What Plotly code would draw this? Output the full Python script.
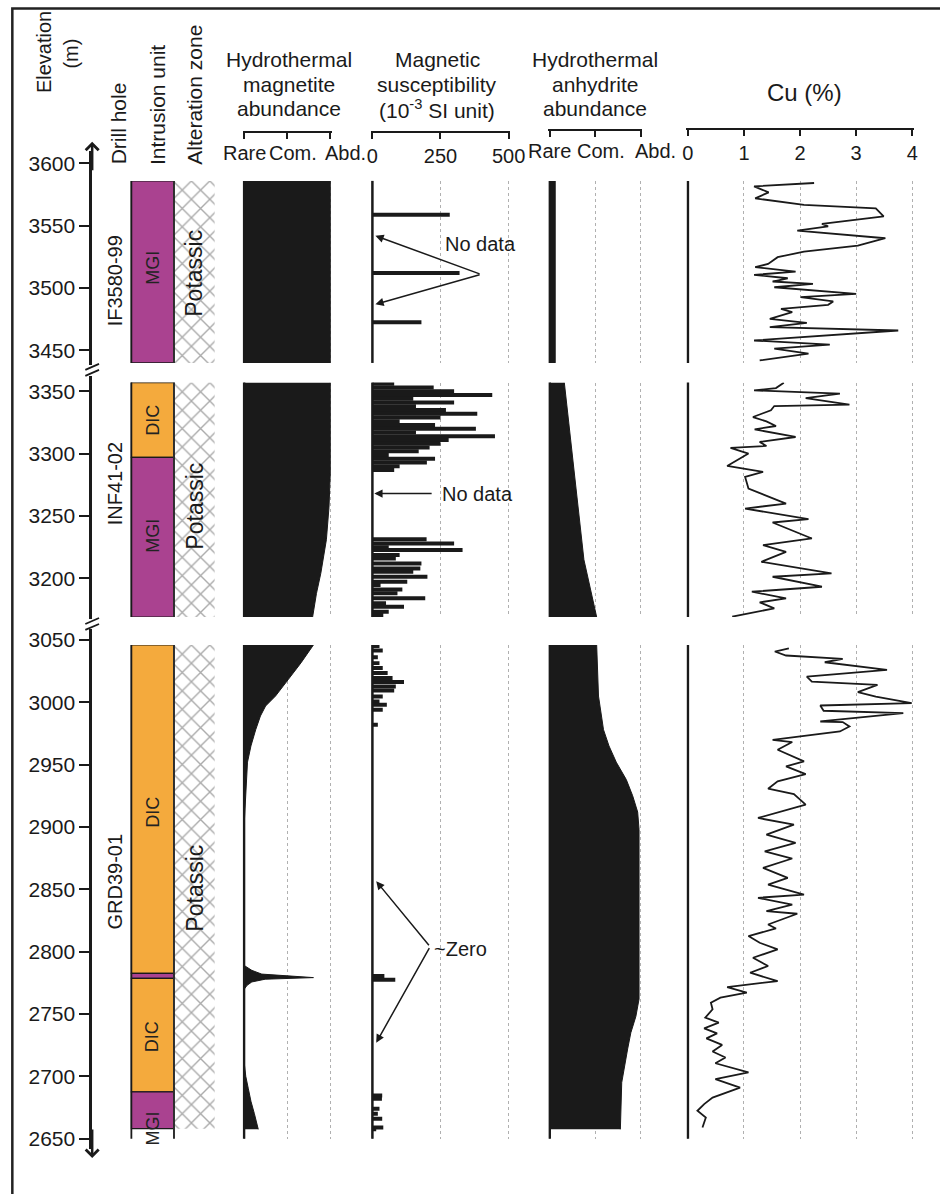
import plotly.graph_objects as go

W, H = 940, 1194
FONT = "Liberation Sans, Arial, sans-serif"
INK = "#1a1a1a"
GRID = "#b0b0b0"
MGI_COLOR = "#aa4290"
DIC_COLOR = "#f4aa3d"

# ---------------------------------------------------------------- data
drill_holes = ["IF3580-99", "INF41-02", "GRD39-01"]
drill_label_elev = [3506, 3276, 2856]
section_top = [3586, 3357, 3046]
section_bottom = [3440, 3169, 2650]
elevation_ticks = [
    [3450, 3500, 3550, 3600],
    [3200, 3250, 3300, 3350],
    [2650, 2700, 2750, 2800, 2850, 2900, 2950, 3000, 3050],
]
abundance_classes = ["Rare", "Com.", "Abd."]

# intrusion units
unit_section = [0, 1, 1, 2, 2, 2, 2]
unit_name = ["MGI", "DIC", "MGI", "DIC", "MGI", "DIC", "MGI"]
unit_top = [3586, 3357, 3297, 3046, 2782.6, 2778.6, 2687.6]
unit_bottom = [3440, 3297, 3169, 2782.6, 2778.6, 2687.6, 2658]
unit_label_elev = [3516, 3327, 3234, 2912, None, 2732, 2658]

# alteration zone
alteration_name = ["Potassic", "Potassic", "Potassic"]
alteration_top = [3586, 3357, 3046]
alteration_bottom = [3440, 3169, 2658]
alteration_label_elev = [3512, 3258, 2851]

# hydrothermal magnetite abundance (0 = rare, 1 = common, 2 = abundant)
mag_elev = [
    [3586, 3440],
    [3357, 3284, 3257, 3231, 3204, 3188, 3169],
    [3046, 3031.6, 3018, 3005, 2997, 2989, 2978, 2965, 2952, 2925, 2912, 2900,
     2789, 2785, 2782, 2780.5, 2779.2, 2777.9, 2775.7, 2773, 2769.7,
     2712, 2700, 2690, 2680, 2670, 2660, 2657.5],
]
mag_value = [
    [2.0, 2.0],
    [2.0, 2.0, 1.97, 1.91, 1.78, 1.68, 1.59],
    [1.61, 1.32, 1.02, 0.73, 0.50, 0.38, 0.27, 0.16, 0.08, 0.04, 0.02, 0.0,
     0.0, 0.18, 0.41, 1.02, 1.61, 0.49, 0.18, 0.07, 0.0,
     0.0, 0.04, 0.10, 0.16, 0.24, 0.31, 0.33],
]

# magnetic susceptibility (10^-3 SI)
sus_elev = [
    [3558.9, 3512.2, 3472.7],
    [3356, 3353, 3350, 3347, 3344, 3341, 3338, 3335, 3332, 3329, 3326, 3323,
     3320, 3317, 3314, 3311, 3308, 3305, 3302, 3299, 3296, 3293, 3290, 3287,
     3231.3, 3228, 3225, 3222.7, 3218.7, 3216, 3212, 3208, 3205.3, 3201.3,
     3197.3, 3194.7, 3191, 3188, 3184, 3180, 3177.3, 3173.3, 3170.7],
    [3045.2, 3041.5, 3036.2, 3031.4, 3027.4, 3023.4, 3019.4, 3016.2, 3012.7,
     3009.5, 3004.6, 3000.6, 2998, 2994, 2982,
     2780.5, 2777.5,
     2684.6, 2682, 2674, 2670, 2666, 2659, 2657.6],
]
sus_value = [
    [284, 320, 180],
    [80, 225, 300, 440, 150, 300, 160, 270, 385, 250, 100, 230,
     380, 160, 450, 280, 250, 210, 170, 60, 230, 200, 100, 80,
     199, 300, 60, 331, 100, 86, 180, 176, 150, 202,
     128, 30, 110, 92, 194, 50, 116, 60, 40],
    [26, 38, 20, 26, 38, 56, 74, 116, 86, 80, 38, 26, 53, 38, 20,
     44, 84,
     36, 35, 26, 20, 36, 40, 14],
]

# hydrothermal anhydrite abundance (0 = rare, 1 = common, 2 = abundant)
anh_elev = [
    [3586, 3440],
    [3357, 3215, 3169],
    [3046, 3005, 2978, 2965, 2952, 2938, 2925, 2912, 2898, 2842, 2762, 2748,
     2735, 2722, 2708, 2695, 2657.5],
]
anh_value = [
    [0.12, 0.12],
    [0.32, 0.75, 1.03],
    [1.03, 1.07, 1.18, 1.30, 1.46, 1.68, 1.82, 1.93, 1.96, 1.96, 1.96, 1.89,
     1.78, 1.71, 1.64, 1.58, 1.55],
]

# Cu grade (%)
cu_elev = [
    [3584.3, 3581.6, 3576.8, 3572.0, 3566.7, 3564.0, 3557.6, 3551.5, 3549.6,
     3546.1, 3540.0, 3534.1, 3529.3, 3524.8, 3519.4, 3516.8, 3513.3, 3510.6,
     3507.9, 3505.3, 3503.4, 3500.7, 3495.4, 3492.7, 3489.3, 3486.6, 3483.4,
     3480.7, 3475.4, 3472.2, 3468.7, 3466.0, 3458.0, 3454.6, 3451.4, 3447.4,
     3442.0],
    [3356.9, 3352.6, 3350.8, 3348.1, 3344.6, 3339.3, 3338.2, 3334.8, 3329.4,
     3325.9, 3322.2, 3319.5, 3313.4, 3309.4, 3306.2, 3304.6, 3300.1, 3290.2,
     3285.4, 3281.4, 3272.0, 3267.2, 3260.0, 3256.0, 3247.5, 3244.8, 3232.0,
     3226.7, 3221.3, 3213.3, 3204.0, 3201.3, 3193.3, 3189.3, 3184.0, 3180.8,
     3176.0, 3169.3],
    [3043.3, 3040.7, 3037.5, 3034.8, 3032.1, 3026.0, 3020.6, 3016.6, 3014.0,
     3008.1, 3004.6, 2999.3, 2997.4, 2993.2, 2991.3, 2984.6, 2984.1, 2980.6,
     2976.6, 2973.9, 2969.9, 2968.1, 2961.9, 2952.6, 2948.6, 2942.4, 2936.6,
     2930.7, 2926.4, 2917.9, 2907.2, 2901.9, 2893.9, 2887.2, 2880.5, 2874.7,
     2867.2, 2859.2, 2853.8, 2845.8, 2843.2, 2837.8, 2832.5, 2830.4, 2821.8,
     2818.6, 2812.5, 2807.1, 2801.8, 2795.1, 2788.5, 2783.1, 2776.4, 2771.6,
     2767.1, 2763.1, 2759.1, 2753.8, 2747.1, 2743.1, 2738.5, 2734.5, 2730.5,
     2725.2, 2719.9, 2715.1, 2710.5, 2703.1, 2697.7, 2691.0, 2683.0, 2677.7,
     2672.4, 2667.0, 2659.0],
]
cu_value = [
    [2.25, 1.18, 1.44, 1.20, 2.07, 3.35, 3.49, 2.39, 2.50, 1.95, 3.52, 3.03,
     2.07, 1.60, 1.43, 1.20, 1.92, 1.18, 1.78, 1.51, 2.23, 1.54, 3.00, 2.01,
     2.59, 2.50, 1.66, 1.86, 1.46, 2.12, 1.46, 3.75, 1.18, 2.53, 1.54, 2.15,
     1.28],
    [1.71, 1.57, 1.18, 2.71, 2.10, 2.88, 1.54, 1.48, 1.16, 1.40, 1.57, 1.19,
     1.92, 1.28, 1.40, 0.76, 1.08, 0.70, 1.34, 1.02, 1.08, 1.34, 1.75, 1.02,
     2.15, 1.51, 2.21, 1.34, 1.75, 1.31, 2.56, 1.51, 2.39, 1.14, 1.75, 1.28,
     1.54, 0.79],
    [1.80, 1.55, 1.75, 2.76, 2.44, 3.55, 2.12, 2.21, 3.38, 3.03, 3.35, 3.99,
     2.36, 2.42, 3.84, 2.36, 2.76, 2.88, 2.71, 2.18, 1.51, 1.86, 1.60, 2.07,
     1.75, 2.10, 1.60, 1.43, 1.89, 2.10, 1.25, 1.89, 1.40, 1.92, 1.37, 1.86,
     1.34, 1.78, 1.43, 2.07, 1.25, 1.86, 1.40, 1.95, 1.43, 1.57, 1.08, 1.28,
     1.60, 1.16, 1.43, 1.11, 1.60, 0.70, 1.05, 0.58, 0.41, 0.44, 0.31, 0.55,
     0.29, 0.52, 0.33, 0.61, 0.44, 0.67, 0.49, 1.08, 0.49, 0.93, 0.44, 0.29,
     0.17, 0.32, 0.26],
]

# ---------------------------------------------------------------- page geometry
K = 1.249                       # px per metre of elevation
ref_elev = [3600, 3350, 3050]   # one labelled elevation per section ...
ref_py = [162.7, 391.0, 640.0]  # ... and its vertical pixel position
elev_axis_span = [(150, 365), (376, 619), (629, 1150)]


def e2py(s, e):
    return ref_py[s] + (ref_elev[s] - e) * K


def py2e(s, py):
    return ref_elev[s] - (py - ref_py[s]) / K


def ydom(top, bot):
    return [1 - bot / H, 1 - top / H]


def yp(py):
    return 1 - py / H


columns = {
    "unit": dict(px=(130, 173.5), rng=(0, 1)),
    "alt": dict(px=(174, 215), rng=(0, 1)),
    "mag": dict(px=(245, 333), rng=(0, 2), tv=[0, 1, 2], tt=None, hy=131),
    "sus": dict(px=(376, 515), rng=(0, 500), tv=[0, 250, 500], tt=["0", "250", "500"], hy=131),
    "anh": dict(px=(557, 650), rng=(0, 2), tv=[0, 1, 2], tt=None, hy=129.5),
    "cu": dict(px=(698, 927), rng=(0, 4), tv=[0, 1, 2, 3, 4], tt=["0", "1", "2", "3", "4"], hy=128.5),
}
PAD = 1.5


def col_axis(col):
    (l, r), (lo, hi) = col["px"], col["rng"]
    ppu = (r - l) / (hi - lo)
    return [(l - PAD) / W, (r + PAD) / W], [lo - PAD / ppu, hi + PAD / ppu]


fig = go.Figure()
layout = dict(
    width=W, height=H, margin=dict(l=0, r=0, t=0, b=0),
    paper_bgcolor="white", plot_bgcolor="white", showlegend=False,
    barmode="overlay", font=dict(family=FONT, color=INK, size=20),
)
annotations, shapes = [], []

# elevation axes (one per drill-hole section, with breaks between them)
layout["xaxis"] = dict(domain=[90 / W, 100 / W], range=[0, 1], visible=False, anchor="y")
for s in range(3):
    top, bot = elev_axis_span[s]
    key = "yaxis" if s == 0 else f"yaxis{s + 1}"
    layout[key] = dict(
        domain=ydom(top, bot), range=[py2e(s, bot), py2e(s, top)], anchor="x",
        side="left", showline=True, linecolor=INK, linewidth=2.5,
        ticks="outside", ticklen=10, tickwidth=1.5, tickcolor=INK,
        tickvals=elevation_ticks[s], tickfont=dict(size=21, color=INK),
        showgrid=False, zeroline=False,
    )
    fig.add_trace(go.Scatter(x=[None], y=[None], xaxis="x",
                             yaxis="y" if s == 0 else f"y{s + 1}", hoverinfo="skip"))

# data axes
xid = {}
n = 2
for s in range(3):
    dkey = f"yaxis{s + 4}"
    layout[dkey] = dict(
        domain=ydom(e2py(s, section_top[s]), e2py(s, section_bottom[s])),
        range=[section_bottom[s], section_top[s]], visible=False, anchor=f"x{n}",
    )
    for name, col in columns.items():
        dom, rng = col_axis(col)
        ax = dict(domain=dom, range=rng, anchor=f"y{s + 4}", zeroline=False,
                  showline=False, ticks="", showticklabels=False, showgrid=False)
        if "tv" in col:
            ax.update(tickvals=col["tv"], showgrid=True, gridcolor=GRID,
                      griddash="dot", gridwidth=1)
            if s == 0:
                ax.update(anchor="free", position=yp(col["hy"]), side="bottom",
                          showline=True, linecolor=INK, linewidth=1.5,
                          ticks="outside", ticklen=6, tickwidth=1.5, tickcolor=INK,
                          tickangle=0, tickfont=dict(size=20, color=INK))
                if col["tt"] is not None:
                    ax.update(showticklabels=True, ticktext=col["tt"])
        layout[f"xaxis{n}"] = ax
        xid[(s, name)] = n
        n += 1


def ax_ids(s, name):
    return f"x{xid[(s, name)]}", f"y{s + 4}"


# abundance-class labels under the two abundance scales (set as one spaced run)
for name in ("mag", "anh"):
    xa, _ = ax_ids(0, name)
    for v, (label, shift) in enumerate(zip(abundance_classes, (0, 6, 15))):
        annotations.append(dict(x=v, y=yp(columns[name]["hy"] + 21), xref=xa, yref="paper",
                                text=label, showarrow=False, xanchor="center",
                                yanchor="middle", xshift=shift,
                                font=dict(size=20, color=INK)))

for s in range(3):
    # intrusion units
    xa, ya = ax_ids(s, "unit")
    for i in range(len(unit_name)):
        if unit_section[i] != s:
            continue
        fig.add_trace(go.Bar(
            x=[0.5], y=[unit_top[i] - unit_bottom[i]], base=[unit_bottom[i]], width=[1.0],
            marker=dict(color=MGI_COLOR if unit_name[i] == "MGI" else DIC_COLOR,
                        line=dict(color=INK, width=1.2)),
            xaxis=xa, yaxis=ya, hoverinfo="skip"))
        if unit_label_elev[i] is not None:
            annotations.append(dict(
                x=0.5, y=unit_label_elev[i], xref=xa, yref=ya, text=unit_name[i],
                showarrow=False, textangle=-90, xanchor="center", yanchor="middle",
                font=dict(size=18, color="#222")))
    for xv in (0, 1):
        shapes.append(dict(type="line", xref=xa, yref=f"{ya} domain", x0=xv, x1=xv,
                           y0=0, y1=1, line=dict(color=INK, width=1.8)))

    # alteration zone
    xa, ya = ax_ids(s, "alt")
    fig.add_trace(go.Bar(
        x=[0.5], y=[alteration_top[s] - alteration_bottom[s]], base=[alteration_bottom[s]],
        width=[1.0],
        marker=dict(color="white", line=dict(width=0),
                    pattern=dict(shape="x", fgcolor="#555555", bgcolor="white",
                                 size=13, solidity=0.2)),
        xaxis=xa, yaxis=ya, hoverinfo="skip"))
    annotations.append(dict(
        x=0.5, y=alteration_label_elev[s], xref=xa, yref=ya, text=alteration_name[s],
        showarrow=False, textangle=-90, xanchor="center", yanchor="middle",
        font=dict(size=23, color=INK)))

    # drill hole label
    annotations.append(dict(
        x=113 / W, y=drill_label_elev[s], xref="paper", yref=ya, text=drill_holes[s],
        showarrow=False, textangle=-90, xanchor="center", yanchor="middle",
        font=dict(size=20, color=INK)))

    # magnetite abundance
    xa, ya = ax_ids(s, "mag")
    fig.add_trace(go.Scatter(x=mag_value[s], y=mag_elev[s], mode="lines",
                             fill="tozerox", fillcolor=INK,
                             line=dict(color=INK, width=1), xaxis=xa, yaxis=ya,
                             hoverinfo="skip"))

    # magnetic susceptibility
    xa, ya = ax_ids(s, "sus")
    fig.add_trace(go.Bar(x=sus_value[s], y=sus_elev[s], base=0, orientation="h",
                         width=3.2, marker=dict(color=INK, line=dict(width=0)),
                         xaxis=xa, yaxis=ya, hoverinfo="skip"))

    # anhydrite abundance
    xa, ya = ax_ids(s, "anh")
    fig.add_trace(go.Scatter(x=anh_value[s], y=anh_elev[s], mode="lines",
                             fill="tozerox", fillcolor=INK,
                             line=dict(color=INK, width=1), xaxis=xa, yaxis=ya,
                             hoverinfo="skip"))

    # Cu grade
    xa, ya = ax_ids(s, "cu")
    fig.add_trace(go.Scatter(x=cu_value[s], y=cu_elev[s], mode="lines",
                             line=dict(color=INK, width=1.8), xaxis=xa, yaxis=ya,
                             hoverinfo="skip"))

    # left boundary line of each log track
    for name in ("mag", "sus", "anh", "cu"):
        xa, ya = ax_ids(s, name)
        shapes.append(dict(type="line", xref=xa, yref=f"{ya} domain", x0=0, x1=0,
                           y0=0, y1=1, line=dict(color=INK, width=2.5)))

# callouts on the susceptibility track
callouts = [
    # section, text, text value, text elev, tail value, tail elev, heads [(value, elev)]
    (0, "No data", 259, 3535, 399, 3511, [(11, 3542), (11, 3487)]),
    (1, "No data", 248, 3268, 223, 3268, [(7, 3268)]),
    (2, "~Zero", 219, 2802, 212, 2804, [(14, 2856.5), (14, 2727)]),
]
for s, txt, tx, ty, tailx, taily, heads in callouts:
    xa, ya = ax_ids(s, "sus")
    annotations.append(dict(x=tx, y=ty, xref=xa, yref=ya, text=txt, showarrow=False,
                            xanchor="left", font=dict(size=20, color=INK)))
    for hx, hy in heads:
        annotations.append(dict(x=hx, y=hy, xref=xa, yref=ya, ax=tailx, ay=taily,
                                axref=xa, ayref=ya, text="", showarrow=True,
                                arrowhead=2, arrowsize=1.1, arrowwidth=1.5,
                                arrowcolor=INK, standoff=0))


# column headers
def header(text, x, y, size=21, angle=0, xanchor="center", yanchor="middle"):
    annotations.append(dict(x=x / W, y=yp(y), xref="paper", yref="paper", text=text,
                            showarrow=False, textangle=angle, xanchor=xanchor,
                            yanchor=yanchor, font=dict(size=size, color=INK)))


header("Elevation", 41, 51, size=20, angle=-90)
header("(m)", 68, 53, size=20, angle=-90)
header("Drill hole", 117, 166, angle=-90, yanchor="bottom")
header("Intrusion unit", 156.5, 166, angle=-90, yanchor="bottom")
header("Alteration zone", 195, 166, angle=-90, yanchor="bottom")
for i, line in enumerate(["Hydrothermal", "magnetite", "abundance"]):
    header(line, 291, 59 + 24.5 * i)
for i, line in enumerate(["Magnetic", "susceptibility", "(10<sup>-3</sup> SI unit)"]):
    header(line, 442, 59 + 24.5 * i)
for i, line in enumerate(["Hydrothermal", "anhydrite", "abundance"]):
    header(line, 603.5, 59 + 24.5 * i)
header("Cu (%)", 817, 92, size=24)

# elevation axis arrow heads
for head_py, off in ((141, 30), (1159, -30)):
    annotations.append(dict(x=90 / W, y=yp(head_py), xref="paper", yref="paper",
                            ax=0, ay=off, axref="pixel", ayref="pixel", text="",
                            showarrow=True, arrowhead=4, arrowsize=1, arrowwidth=2.5,
                            arrowcolor=INK, standoff=0))

# axis break marks
for mid in (369.5, 624):
    for d in (-3, 3):
        shapes.append(dict(type="line", xref="paper", yref="paper",
                           x0=83 / W, x1=97 / W, y0=yp(mid + d + 3), y1=yp(mid + d - 3),
                           line=dict(color=INK, width=1.8)))

# outer frame
shapes.append(dict(type="rect", xref="paper", yref="paper", x0=8.5 / W, x1=1.05,
                   y0=-0.05, y1=yp(7.5), line=dict(color="#222", width=2.5)))

layout["annotations"] = annotations
layout["shapes"] = shapes
fig.update_layout(**layout)
fig.write_html("out.html")
